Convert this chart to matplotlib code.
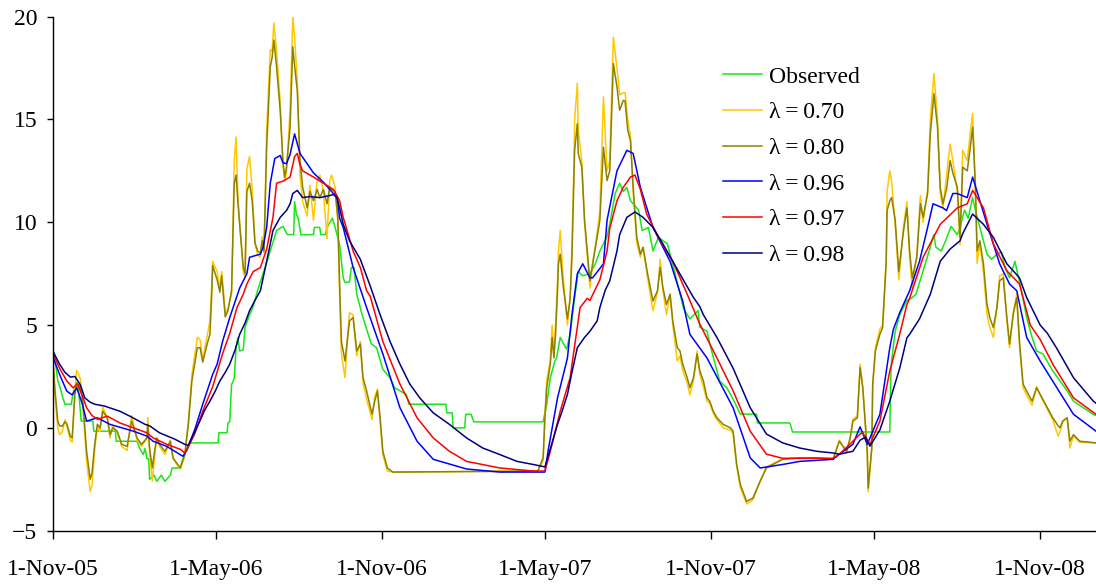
import numpy as np
import matplotlib
matplotlib.use('Agg')
import matplotlib.pyplot as plt

plt.rcParams['font.family'] = ['Liberation Serif', 'DejaVu Serif']
plt.rcParams['font.size'] = 17

start = np.datetime64('2005-11-01')

# observed values (days counted from 1-Nov-05)
obs_days = [0, 2, 5, 8, 10, 13, 20, 22, 25, 28, 31, 44, 45, 69, 70, 93, 96, 100, 102, 104,
            106, 107, 112, 115, 120, 124, 130, 132, 141, 144, 148, 152, 183, 184, 193, 194,
            196, 198, 201, 203, 205, 207, 211, 213, 218, 222, 227, 233, 241, 248, 255, 260,
            267, 268, 270, 272, 275, 289, 290, 296, 297, 302, 304, 310, 313, 318, 322, 324,
            329, 331, 334, 337, 343, 353, 359, 366, 374, 379, 392, 395, 436, 437, 443, 444,
            457, 458, 464, 467, 544, 548, 552, 557, 559, 563, 566, 570, 574, 579, 583, 588,
            596, 602, 607, 615, 618, 624, 629, 633, 637, 641, 650, 654, 661, 666, 672, 682,
            690, 700, 707, 716, 718, 726, 729, 735, 740, 748, 755, 763, 781, 782, 818, 821,
            929, 930, 931, 935, 940, 948, 953, 958, 965, 972, 978, 980, 986, 991, 997, 1004,
            1007, 1012, 1016, 1021, 1024, 1029, 1037, 1042, 1048, 1053, 1057, 1062, 1068,
            1071, 1075, 1081, 1087, 1092, 1099, 1110, 1126, 1133, 1144, 1155, 1158]
obs_vals = [3.74, 3.3, 2.3, 1.9, 1.55, 1.15, 1.15, 1.7, 2.1, 1.9, 0.33, 0.33, -0.16, -0.16,
            -0.65, -0.65, -1.0, -1.3, -1.0, -1.5, -1.5, -2.5, -2.3, -2.6, -2.3, -2.6, -2.3,
            -1.95, -1.95, -1.5, -1.1, -0.73, -0.73, -0.24, -0.24, 0.24, 0.3, 2.1, 2.4, 3.9,
            4.39, 3.74, 3.8, 4.9, 5.5, 5.9, 6.7, 7.5, 8.6, 9.6, 9.8, 9.4, 9.4, 11.0, 10.4,
            10.2, 9.4, 9.4, 9.75, 9.75, 9.4, 9.4, 9.75, 10.2, 9.75, 8.9, 7.3, 7.07, 7.1, 7.8,
            7.8, 6.5, 5.5, 4.1, 3.9, 2.85, 2.44, 1.95, 1.63, 1.15, 1.15, 0.73, 0.73, 0.0, 0.0,
            0.66, 0.66, 0.29, 0.29, 1.15, 2.44, 3.25, 3.4, 4.4, 4.15, 3.83, 4.56, 6.34, 7.6,
            7.4, 7.5, 7.98, 8.6, 9.3, 9.9, 11.4, 11.9, 11.5, 11.7, 11.05, 10.6, 9.6, 9.75,
            8.6, 9.27, 8.95, 7.6, 5.8, 5.3, 5.7, 4.9, 4.7, 4.1, 3.1, 2.28, 1.95, 1.4, 0.67,
            0.67, 0.24, 0.24, -0.2, -0.2, 2.44, 3.25, 4.7, 5.5, 6.2, 6.3, 6.5, 7.5, 8.5, 9.4,
            8.8, 8.6, 9.1, 9.8, 9.4, 9.75, 10.6, 10.2, 11.2, 10.6, 9.75, 8.45, 8.2, 8.45,
            8.55, 7.8, 7.3, 8.1, 7.5, 6.7, 5.37, 4.4, 3.74, 3.6, 2.77, 1.8, 1.3, 0.98, 0.66,
            0.6]

# lambda = 0.70 and 0.80 share the same dates
noisy_days = [0, 2, 5, 7, 10, 13, 15, 19, 21, 24, 26, 30, 33, 37, 41, 43, 46, 49, 52, 55,
              60, 63, 66, 71, 76, 82, 87, 93, 98, 104, 105, 107, 110, 113, 115, 118, 124,
              130, 133, 141, 146, 150, 154, 160, 163, 166, 171, 174, 176, 177, 182, 185,
              187, 191, 194, 198, 201, 203, 205, 207, 211, 213, 215, 218, 221, 224, 227,
              230, 232, 234, 237, 241, 243, 245, 248, 252, 255, 257, 259, 263, 266, 268,
              271, 274, 277, 282, 285, 289, 293, 296, 300, 304, 307, 309, 313, 316, 318,
              320, 324, 327, 329, 333, 337, 341, 344, 348, 354, 357, 360, 363, 366, 371,
              377, 538, 544,
              546, 548, 552, 554, 556, 558, 560, 561, 563, 566, 571, 574, 576, 578, 579,
              582, 583, 587, 590, 594, 596, 599, 604, 607, 611, 615, 618, 622, 626, 629,
              633, 635, 638, 641, 644, 648, 652, 655, 660, 666, 671, 674, 677, 681, 685,
              688, 693, 696, 699, 704, 707, 711, 715, 718, 722, 726, 729, 733, 737, 744,
              752, 755, 759, 763, 770, 777, 785, 792, 810, 829, 848, 866, 873, 881, 885,
              888, 893, 896, 899, 904, 905, 909, 910, 913, 918, 921,
              925, 926, 929, 931, 935, 939, 944, 948, 951, 954, 959, 963, 966, 971, 974,
              978, 982, 985, 988, 992, 996, 999, 1004, 1007, 1010, 1015, 1018, 1021, 1024,
              1026, 1029, 1033, 1037, 1040, 1044, 1048, 1051, 1055, 1059, 1062, 1066, 1070,
              1073, 1077, 1081, 1087, 1092, 1096, 1104, 1110, 1116, 1118, 1121, 1126, 1129,
              1133, 1140, 1158]

lam80 = [3.1, 1.8, 0.33, 0.1, 0.08, 0.3, 0.2, -0.4, -0.49, 1.6, 2.2, 2.0, 1.2, -1.14, -2.5,
         -2.2, -0.8, 0.18, 0.0, 0.81, 0.49, -0.33, 0.0, -0.16, -0.8, -0.9, 0.33, -0.49, -0.8,
         -0.49, 0.17, -1.0, -1.95, -1.0, -0.49, -0.8, -1.14, -0.65, -1.46, -1.95, -1.3, 0.17,
         2.3, 3.9, 3.9, 3.2, 4.1, 4.55, 6.5, 7.9, 7.2, 6.6, 7.4, 5.4, 5.7, 6.67, 11.9, 12.3,
         11.0, 9.9, 7.8, 7.5, 11.5, 11.9, 11.0, 9.0, 8.6, 8.5, 9.1, 8.6, 13.66, 17.56, 18.0,
         18.86, 17.56, 15.45, 13.0, 12.2, 12.68, 14.63, 18.54, 17.6, 16.4, 13.0, 11.7, 10.7,
         11.5, 11.05, 11.6, 11.2, 11.6, 10.9, 11.7, 11.6, 11.5, 10.24, 7.0, 4.2, 3.25, 4.4,
         5.2, 5.37, 3.74, 4.08, 2.44, 1.79, 0.67, 1.3, 1.79, 0.49, -1.14, -1.95, -2.15, -2.1,
         -1.46,
         0.49, 1.95, 3.1, 4.4, 3.4, 4.7, 6.67, 7.97, 8.45, 7.0, 5.3, 6.3, 8.3, 11.7, 13.5,
         14.8, 13.35, 12.68, 10.1, 8.1, 7.15, 7.97, 9.27, 10.1, 13.66, 12.03, 12.5, 17.72,
         16.6, 15.45, 15.93, 15.9, 14.47, 13.98, 11.7, 9.27, 8.45, 8.78, 7.5, 6.17, 6.67, 7.8,
         6.83, 6.0, 6.5, 5.2, 3.9, 3.74, 3.1, 2.44, 1.95, 2.44, 3.6, 2.77, 2.28, 1.46, 1.3,
         0.81, 0.49, 0.17, 0.0, -0.16, -1.78, -2.75, -3.58, -3.41, -2.6, -1.95, -1.53, -1.46,
         -1.46, -1.53, -0.65, -1.14, -0.49, 0.33, 0.49, 2.93, 1.95, -1.14, -2.93, -0.98,
         2.13, 3.74, 4.55, 4.88,
         8.1, 10.57, 11.05, 11.2, 10.1, 7.6, 9.5, 10.7, 8.6, 7.3, 8.3, 10.9, 10.24, 11.4,
         14.3, 16.26, 14.63, 11.7, 10.9, 11.6, 13.0, 12.4, 11.7, 9.27, 12.68, 12.5, 13.5,
         14.63, 11.9, 8.6, 9.1, 7.98, 6.0, 5.37, 4.88, 5.85, 7.15, 7.3, 5.37, 4.08, 5.5, 6.34,
         4.2, 2.13, 1.79, 1.3, 1.95, 1.63, 0.98, 0.49, 0.1, 0.0, 0.33, 0.49, -0.65, -0.33,
         -0.65, -0.73]

lam70 = [2.9, 1.5, 0.0, -0.33, -0.2, 0.4, 0.1, -0.6, -0.7, 1.9, 2.8, 2.4, 1.0, -1.6, -3.1,
         -2.8, -1.1, 0.1, -0.2, 1.0, 0.5, -0.5, 0.1, -0.2, -0.9, -1.1, 0.6, -0.6, -0.9, -0.5,
         0.5, -1.2, -2.6, -1.2, -0.5, -0.9, -1.3, -0.6, -1.5, -2.0, -1.4, 0.3, 2.6, 4.4, 4.3,
         3.3, 4.5, 5.2, 7.0, 8.1, 7.6, 6.8, 7.6, 5.6, 5.8, 6.5, 13.0, 14.15, 11.3, 10.0, 7.6,
         7.3, 12.6, 13.2, 11.5, 9.0, 8.4, 8.3, 9.3, 8.5, 14.5, 18.4, 18.3, 19.7, 18.3, 15.9,
         12.8, 12.0, 12.4, 15.5, 20.0, 19.0, 16.9, 12.3, 11.0, 10.3, 11.8, 10.1, 12.0, 12.3,
         11.5, 9.2, 12.0, 12.3, 11.7, 10.0, 6.5, 3.6, 2.44, 4.6, 5.6, 5.5, 3.5, 4.2, 2.2,
         1.4, 0.4, 1.5, 1.9, 0.3, -1.3, -2.1, -2.15, -2.1, -1.6,
         0.6, 2.3, 3.3, 5.0, 3.6, 5.2, 7.2, 8.6, 9.6, 7.5, 5.0, 6.3, 8.8, 12.5, 15.0, 16.76,
         14.5, 13.0, 10.0, 7.8, 6.8, 8.0, 9.5, 10.5, 16.1, 12.5, 13.0, 19.0, 17.5, 16.2,
         16.3, 16.3, 15.0, 14.2, 11.5, 9.0, 8.3, 8.8, 7.3, 5.7, 6.6, 8.2, 6.7, 5.5, 6.5, 5.0,
         3.25, 3.5, 2.8, 2.2, 1.6, 2.3, 3.74, 2.6, 2.0, 1.3, 1.2, 0.7, 0.4, 0.0, -0.1, -0.3,
         -1.9, -2.9, -3.7, -3.5, -2.6, -1.9, -1.5, -1.45, -1.45, -1.5, -0.6, -1.2, -0.5, 0.4,
         0.6, 3.1, 2.0, -1.3, -3.1, -1.0, 2.0, 3.9, 4.8, 5.0,
         8.0, 11.5, 12.5, 12.0, 9.9, 7.2, 9.7, 11.0, 8.3, 6.8, 8.4, 11.3, 10.0, 11.6, 15.0,
         17.24, 15.0, 11.4, 10.7, 12.3, 13.8, 13.0, 11.5, 8.9, 13.5, 13.0, 14.2, 15.3, 11.5,
         8.0, 9.0, 7.6, 5.5, 4.9, 4.4, 5.9, 7.4, 7.5, 5.2, 3.9, 5.6, 6.5, 4.0, 1.95, 1.6,
         1.1, 2.0, 1.6, 0.9, 0.4, -0.4, -0.2, 0.3, 0.5, -0.98, -0.4, -0.7, -0.73]

# lambda = 0.96
lam96_days = [0, 7, 15, 21, 26, 32, 37, 49, 63, 89, 104, 111, 126, 144, 148, 157, 166, 177,
              182, 188, 196, 207, 215, 218, 226, 230, 233, 237, 241, 246, 252, 255, 259, 263,
              268, 274, 289, 300, 311, 315, 318, 322, 333, 348, 366, 385, 404, 422, 459, 496,
              546, 550, 560, 571, 576, 582, 588, 596, 599, 611, 615, 626, 637, 644, 652, 666,
              685, 699, 707, 726, 755, 774, 785, 810, 829, 866, 873, 888, 896, 904, 918, 929,
              933, 940, 951, 962, 971, 977, 988, 992, 999, 1004, 1015, 1021, 1037, 1051, 1062,
              1070, 1081, 1096, 1133, 1158]
lam96 = [3.4, 2.6, 1.79, 1.6, 1.95, 1.2, 0.33, 0.49, 0.17, -0.16, -0.4, -0.65, -0.9, -1.38,
         -1.1, -0.1, 1.15, 2.6, 3.1, 4.2, 5.37, 6.8, 7.5, 8.3, 8.4, 8.45, 8.78, 9.75, 11.9,
         13.1, 13.25, 12.9, 12.85, 13.3, 14.3, 13.35, 12.4, 11.95, 11.4, 11.3, 10.2, 9.75,
         7.8, 5.85, 3.6, 0.98, -0.65, -1.53, -2.0, -2.15, -2.15, -1.0, 1.46, 3.4, 5.5, 7.5,
         7.98, 7.3, 7.3, 7.98, 10.1, 12.5, 13.5, 13.35, 11.7, 9.75, 8.1, 6.17, 4.55, 3.4,
         0.98, -1.46, -1.95, -1.78, -1.63, -1.53, -1.28, -0.8, 0.05, -0.8, 0.66, 3.9, 4.8,
         5.6, 6.67, 8.1, 9.75, 10.9, 10.7, 10.57, 11.4, 11.4, 11.2, 12.2, 9.9, 7.98, 7.0,
         6.67, 4.4, 3.25, 0.66, -0.16]

# lambda = 0.97
lam97_days = [0, 7, 15, 22, 27, 32, 37, 43, 49, 60, 74, 89, 104, 111, 126, 141, 146, 148,
              157, 166, 177, 188, 196, 204, 211, 215, 222, 230, 237, 244, 248, 255, 263, 268,
              271, 274, 277, 289, 300, 311, 318, 322, 329, 333, 341, 348, 352, 366, 385, 404,
              422, 440, 459, 496, 533, 546, 552, 563, 574, 579, 582, 585, 593, 596, 607, 615,
              618, 626, 633, 641, 646, 652, 659, 674, 688, 704, 718, 737, 755, 774, 792, 810,
              866, 873, 888, 896, 899, 907, 918, 929, 940, 948, 951, 966, 985, 1004, 1015,
              1021, 1033, 1044, 1059, 1073, 1085, 1096, 1110, 1133, 1158]
lam97 = [3.6, 2.9, 2.28, 1.95, 2.13, 1.6, 0.98, 0.6, 0.42, 0.57, 0.24, 0.0, -0.24, -0.49,
         -0.8, -1.04, -1.22, -1.1, -0.3, 0.81, 2.0, 3.6, 4.6, 5.85, 6.5, 7.0, 7.6, 7.8, 8.7,
         10.24, 11.9, 12.0, 12.2, 13.2, 13.35, 12.8, 12.5, 12.2, 11.9, 11.6, 11.05, 10.24,
         9.2, 8.6, 7.8, 6.67, 6.4, 4.2, 2.13, 0.49, -0.49, -1.14, -1.63, -1.95, -2.1, -2.1,
         -1.14, 0.81, 2.44, 4.0, 4.9, 5.85, 6.3, 6.2, 7.2, 8.6, 9.7, 11.05, 11.7, 12.2, 12.3,
         11.6, 10.4, 9.1, 8.1, 6.5, 5.05, 3.4, 1.8, -0.16, -1.28, -1.48, -1.48, -1.28, -0.65,
         -0.3, -0.24, -0.8, 0.33, 2.77, 4.55, 6.0, 6.3, 8.3, 9.9, 10.7, 10.9, 11.55, 10.7,
         8.95, 7.64, 7.0, 5.0, 4.3, 3.1, 1.46, 0.66]

# lambda = 0.98
lam98_days = [0, 7, 13, 19, 24, 30, 35, 41, 46, 57, 74, 85, 102, 107, 118, 135, 146, 150,
              157, 163, 168, 174, 180, 185, 191, 196, 202, 207, 213, 218, 224, 230, 237, 244,
              252, 259, 263, 266, 271, 277, 285, 296, 307, 311, 315, 318, 322, 329, 341, 352,
              363, 374, 385, 396, 407, 422, 440, 459, 477, 496, 515, 533, 546, 560, 565, 571,
              576, 582, 590, 596, 604, 607, 613, 618, 626, 629, 637, 646, 655, 666, 677, 688,
              699, 711, 718, 722, 737, 755, 774, 792, 810, 829, 848, 866, 873, 888, 896, 902,
              907, 918, 929, 940, 948, 951, 962, 966, 974, 985, 996, 1007, 1010, 1021, 1033,
              1044, 1059, 1073, 1081, 1096, 1104, 1114, 1133, 1155, 1158]
lam98 = [3.7, 3.1, 2.7, 2.47, 2.5, 2.1, 1.46, 1.25, 1.15, 1.06, 0.81, 0.57, 0.17, 0.1, -0.24,
         -0.55, -0.8, -0.85, -0.2, 0.35, 0.85, 1.3, 1.8, 2.28, 2.7, 3.1, 3.8, 4.55, 5.1, 5.7,
         6.2, 6.67, 8.1, 9.6, 10.24, 10.57, 10.9, 11.4, 11.55, 11.2, 11.25, 11.2, 11.3, 11.35,
         11.2, 10.7, 9.9, 9.1, 8.2, 6.9, 5.5, 4.2, 3.1, 2.13, 1.46, 0.73, 0.17, -0.49, -0.98,
         -1.3, -1.63, -1.78, -1.9, 0.17, 0.8, 1.63, 2.7, 3.9, 4.4, 4.7, 5.2, 5.85, 6.7, 7.15,
         8.6, 9.4, 10.24, 10.5, 10.24, 9.75, 8.95, 8.1, 7.25, 6.34, 5.9, 5.5, 4.4, 2.9, 0.98,
         -0.3, -0.73, -0.98, -1.14, -1.22, -1.28, -1.14, -0.6, -0.45, -0.89, -0.1, 1.3, 2.9,
         4.38, 4.55, 5.3, 5.7, 6.5, 8.1, 8.7, 9.1, 9.45, 10.4, 9.9, 9.27, 7.98, 7.3, 6.34,
         5.0, 4.6, 3.9, 2.44, 1.3, 1.2]

tick_dates = ['2005-11-01', '2006-05-01', '2006-11-01', '2007-05-01',
              '2007-11-01', '2008-05-01', '2008-11-01']
tick_labels = ['1-Nov-05', '1-May-06', '1-Nov-06', '1-May-07',
               '1-Nov-07', '1-May-08', '1-Nov-08']


def to_dates(days):
    return start + np.array(days, dtype='timedelta64[D]')


fig = plt.figure(figsize=(10.96, 5.88), dpi=100)
ax = fig.add_axes([0.0486, 0.0975, 0.9514, 0.8741])

lw = 1.1
ax.plot(to_dates(obs_days), obs_vals, color='#19e619', lw=lw, label='Observed')
ax.plot(to_dates(noisy_days), lam70, color='#ffc800', lw=lw, label='\u03bb\u2009=\u20090.70')
ax.plot(to_dates(noisy_days), lam80, color='#8c8200', lw=lw, label='\u03bb\u2009=\u20090.80')
ax.plot(to_dates(lam96_days), lam96, color='#0000ff', lw=lw, label='\u03bb\u2009=\u20090.96')
ax.plot(to_dates(lam97_days), lam97, color='#ff0000', lw=lw, label='\u03bb\u2009=\u20090.97')
ax.plot(to_dates(lam98_days), lam98, color='#000080', lw=lw, label='\u03bb\u2009=\u20090.98')

ax.set_ylim(-5, 20)
ax.set_xlim(start, start + np.timedelta64(1158, 'D'))
ax.set_yticks(range(-5, 21, 5))
ax.set_xticks([np.datetime64(d) for d in tick_dates])
ax.set_xticklabels(tick_labels)

for s in ['top', 'right']:
    ax.spines[s].set_visible(False)
for s in ['left', 'bottom']:
    ax.spines[s].set_linewidth(1.0)
    ax.spines[s].set_color('black')
ax.tick_params(axis='y', direction='out', length=4.5, width=1.0, pad=7)
ax.tick_params(axis='x', direction='out', length=5.5, width=1.0, pad=15)

leg = ax.legend(loc='upper left', bbox_to_anchor=(723 / 1096, 1 - 66 / 588),
                bbox_transform=fig.transFigure, frameon=False, borderpad=0,
                handlelength=1.65, handletextpad=0.3, labelspacing=0.6,
                borderaxespad=0)

fig.savefig('out.png', dpi=100)
